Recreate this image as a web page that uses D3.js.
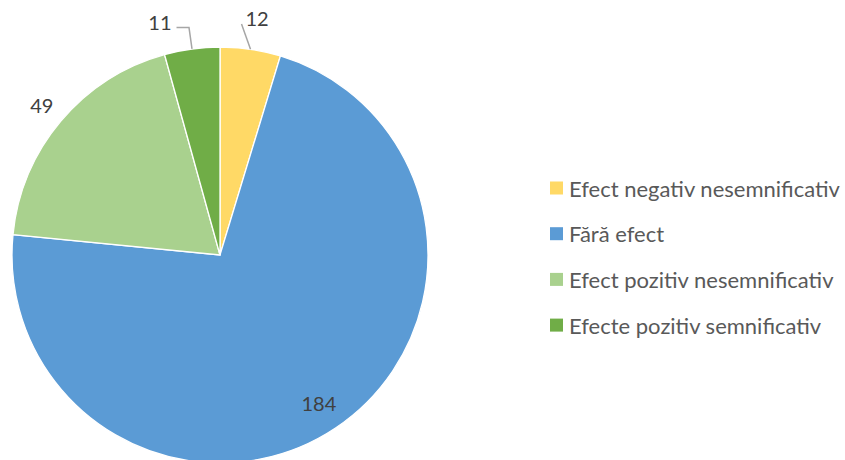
<!DOCTYPE html>
<html><head><meta charset="utf-8">
<script src="https://cdn.jsdelivr.net/npm/d3@7"></script>
<style>
html,body{margin:0;padding:0;background:#fff;}
svg{display:block;}
text{font-family:Lato,"Open Sans",sans-serif;}
</style></head>
<body>
<svg id="chart" width="845" height="460"></svg>
<script>
const categories = ["Efect negativ nesemnificativ","Fără efect","Efect pozitiv nesemnificativ","Efecte pozitiv semnificativ"];
const values = [12, 184, 49, 11];
const colors = ["#FFD966","#5B9BD5","#A9D18E","#70AD47"];

const svg = d3.select("#chart");
const cx = 220, cy = 255, R = 208;

const pie = d3.pie().sort(null).value(d => d)(values);
const arc = d3.arc().innerRadius(0).outerRadius(R);
const g = svg.append("g").attr("transform", `translate(${cx},${cy})`);

g.selectAll("path.slice").data(pie).join("path")
  .attr("class","slice")
  .attr("d", arc)
  .attr("fill", (d,i) => colors[i])
  .attr("stroke","#fff").attr("stroke-width",1.3);

const polar = (a, r) => [r*Math.sin(a), -r*Math.cos(a)];
const mid = d => (d.startAngle + d.endAngle)/2;

// label placement: radius and angular offset (radians) from slice middle
const labelCfg = [
  {r: 240, da: 0.008, leader: "radial"},
  {r: 178, da: 0, leader: null},
  {r: 233, da: 0, leader: null},
  {r: 241, da: -0.117, leader: "elbow"}
];

const numSize = 20;
const lbl = g.selectAll("g.lbl").data(pie).join("g").attr("class","lbl");
lbl.each(function(d,i){
  const c = labelCfg[i];
  const p = polar(mid(d) + c.da, c.r);
  const t = d3.select(this).append("text")
    .attr("x", p[0]).attr("y", p[1])
    .attr("text-anchor","middle").attr("dominant-baseline","central")
    .attr("font-size", numSize).attr("fill","#404040")
    .text(values[i]);
  const bb = t.node().getBBox();
  if (c.leader === "radial") {
    const s = polar(mid(d), R);
    const e = [bb.x - 4, bb.y + bb.height - 6];
    d3.select(this).append("polyline")
      .attr("points", [s, e].map(q => q.join(",")).join(" "))
      .attr("fill","none").attr("stroke","#A6A6A6").attr("stroke-width",1.5);
  } else if (c.leader === "elbow") {
    const s = polar(mid(d), R);
    const y = bb.y + bb.height - 6;
    const e1 = [bb.x + bb.width + 5, y];
    const e2 = [s[0] - 3, y];
    d3.select(this).append("polyline")
      .attr("points", [e1, e2, s].map(q => q.join(",")).join(" "))
      .attr("fill","none").attr("stroke","#A6A6A6").attr("stroke-width",1.5);
  }
});

// legend
const legX = 550, legY0 = 188, legStep = 45.7, sq = 13, legSize = 22;
const leg = svg.append("g");
categories.forEach((c,i) => {
  const y = legY0 + i*legStep;
  leg.append("rect").attr("x", legX).attr("y", y - sq/2).attr("width", sq).attr("height", sq).attr("fill", colors[i]);
  leg.append("text").attr("x", legX + sq + 6).attr("y", y)
    .attr("dominant-baseline","central")
    .attr("font-size", legSize).attr("fill","#595959").text(c);
});
</script>
</body></html>
